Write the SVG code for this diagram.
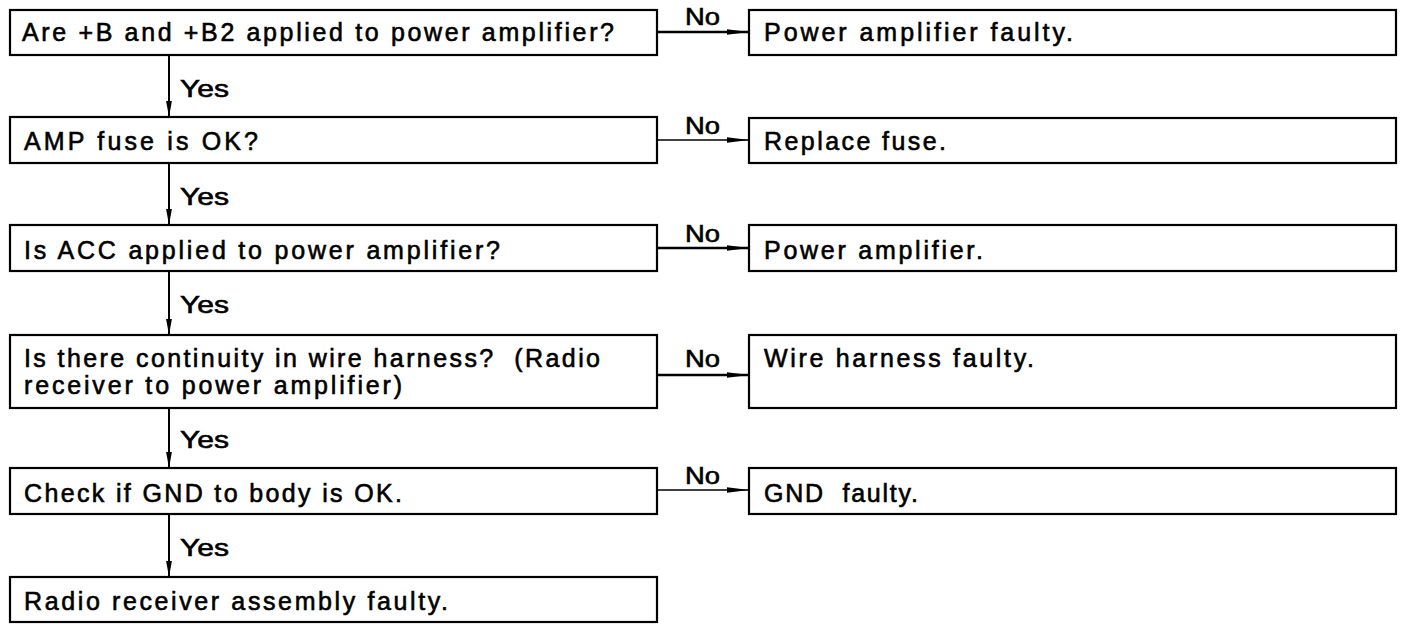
<svg xmlns="http://www.w3.org/2000/svg" width="1408" height="630" viewBox="0 0 1408 630">
<style>
.box{fill:#fff;stroke:#000;stroke-width:2.2}
.t{font-family:"Liberation Sans",Arial,sans-serif;font-size:25px;fill:#000;stroke:#000;stroke-width:0.6}
.lbl{font-family:"Liberation Sans",Arial,sans-serif;font-size:24px;fill:#000;stroke:#000;stroke-width:0.6}
.ln{stroke:#000;fill:none}
</style>
<defs>
<marker id="ah" viewBox="0 0 22 8" refX="22" refY="4" markerWidth="22" markerHeight="8" markerUnits="userSpaceOnUse" orient="auto">
<path d="M0,1.2 L22,4 L0,6.8 Z" fill="#000"/>
</marker>
<marker id="av" viewBox="0 0 16 7" refX="16" refY="3.5" markerWidth="16" markerHeight="7" markerUnits="userSpaceOnUse" orient="auto">
<path d="M0,0.6 L16,3.5 L0,6.4 Z" fill="#000"/>
</marker>
</defs>
<rect width="1408" height="630" fill="#fff"/>
<g id="connectors">
<line class="ln" x1="169" y1="55" x2="169" y2="117" stroke-width="2" marker-end="url(#av)"/>
<line class="ln" x1="169" y1="163" x2="169" y2="225" stroke-width="2" marker-end="url(#av)"/>
<line class="ln" x1="169" y1="271" x2="169" y2="335" stroke-width="2" marker-end="url(#av)"/>
<line class="ln" x1="169" y1="408" x2="169" y2="468" stroke-width="2" marker-end="url(#av)"/>
<line class="ln" x1="169" y1="514" x2="169" y2="577" stroke-width="2" marker-end="url(#av)"/>
<line class="ln" x1="657" y1="32" x2="749" y2="32" stroke-width="2.5" marker-end="url(#ah)"/>
<line class="ln" x1="657" y1="140" x2="749" y2="140" stroke-width="1.5" marker-end="url(#ah)"/>
<line class="ln" x1="657" y1="248" x2="749" y2="248" stroke-width="2.5" marker-end="url(#ah)"/>
<line class="ln" x1="657" y1="375" x2="749" y2="375" stroke-width="2.5" marker-end="url(#ah)"/>
<line class="ln" x1="657" y1="490" x2="749" y2="490" stroke-width="1.5" marker-end="url(#ah)"/>
<text class="lbl" x="180" y="97" textLength="49" lengthAdjust="spacingAndGlyphs">Yes</text>
<text class="lbl" x="180" y="205" textLength="49" lengthAdjust="spacingAndGlyphs">Yes</text>
<text class="lbl" x="180" y="313" textLength="49" lengthAdjust="spacingAndGlyphs">Yes</text>
<text class="lbl" x="180" y="448" textLength="49" lengthAdjust="spacingAndGlyphs">Yes</text>
<text class="lbl" x="180" y="556" textLength="49" lengthAdjust="spacingAndGlyphs">Yes</text>
<text class="lbl" x="685" y="25" textLength="35" lengthAdjust="spacingAndGlyphs">No</text>
<text class="lbl" x="685" y="134" textLength="35" lengthAdjust="spacingAndGlyphs">No</text>
<text class="lbl" x="685" y="242" textLength="35" lengthAdjust="spacingAndGlyphs">No</text>
<text class="lbl" x="685" y="367" textLength="35" lengthAdjust="spacingAndGlyphs">No</text>
<text class="lbl" x="685" y="484" textLength="35" lengthAdjust="spacingAndGlyphs">No</text>
</g>
<g id="q1"><rect class="box" x="10" y="10" width="647" height="45"/><text class="t" x="22" y="41" textLength="592" lengthAdjust="spacing">Are +B and +B2 applied to power amplifier?</text></g>
<g id="q2"><rect class="box" x="10" y="117" width="647" height="46"/><text class="t" x="24" y="150" textLength="234" lengthAdjust="spacing">AMP fuse is OK?</text></g>
<g id="q3"><rect class="box" x="10" y="225" width="647" height="46"/><text class="t" x="24" y="259" textLength="476" lengthAdjust="spacing">Is ACC applied to power amplifier?</text></g>
<g id="q4"><rect class="box" x="10" y="335" width="647" height="73"/><text class="t" x="24" y="367" textLength="576" lengthAdjust="spacing" xml:space="preserve">Is there continuity in wire harness?  (Radio</text><text class="t" x="24" y="394" textLength="378" lengthAdjust="spacing">receiver to power amplifier)</text></g>
<g id="q5"><rect class="box" x="10" y="468" width="647" height="46"/><text class="t" x="24" y="502" textLength="378" lengthAdjust="spacing">Check if GND to body is OK.</text></g>
<g id="r6"><rect class="box" x="10" y="577" width="647" height="45"/><text class="t" x="24" y="610" textLength="424" lengthAdjust="spacing">Radio receiver assembly faulty.</text></g>
<g id="a1"><rect class="box" x="749" y="10" width="647" height="45"/><text class="t" x="764" y="41" textLength="309" lengthAdjust="spacing">Power amplifier faulty.</text></g>
<g id="a2"><rect class="box" x="749" y="118" width="647" height="45"/><text class="t" x="764" y="150" textLength="182" lengthAdjust="spacing">Replace fuse.</text></g>
<g id="a3"><rect class="box" x="749" y="225" width="647" height="46"/><text class="t" x="764" y="259" textLength="219" lengthAdjust="spacing">Power amplifier.</text></g>
<g id="a4"><rect class="box" x="749" y="335" width="647" height="73"/><text class="t" x="764" y="367" textLength="270" lengthAdjust="spacing">Wire harness faulty.</text></g>
<g id="a5"><rect class="box" x="749" y="468" width="647" height="46"/><text class="t" x="764" y="502" textLength="154" lengthAdjust="spacing" xml:space="preserve">GND  faulty.</text></g>
</svg>
